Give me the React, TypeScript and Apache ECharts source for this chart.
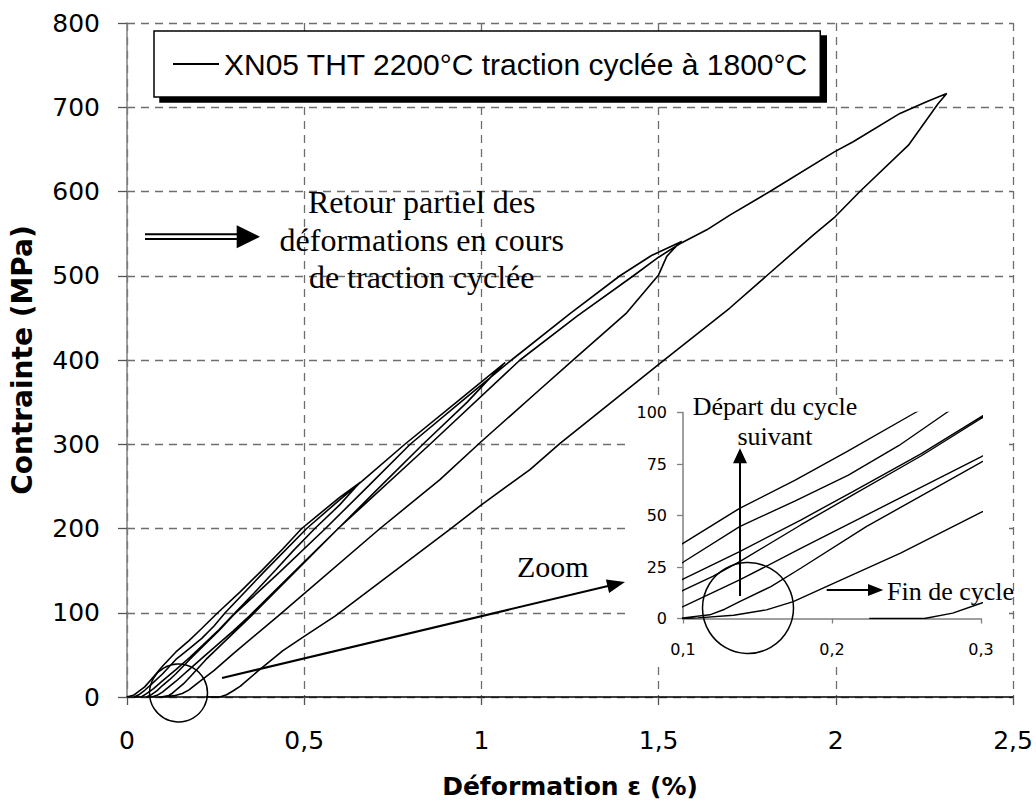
import React, { useEffect, useRef } from 'react';
import * as echarts from 'echarts';

// Cyclic tensile test record: strain (%) vs stress (MPa), one array per branch, in test order.
const SERIES_NAME = 'XN05 THT 2200°C traction cyclée à 1800°C';

const load1: [number, number][] = [
  [0, 0], [0.02, 2.5], [0.05, 12], [0.075, 24], [0.1, 36.5], [0.138, 53.5], [0.175, 67], [0.21, 81],
  [0.256, 100], [0.32, 125], [0.38, 150], [0.44, 176], [0.493, 200], [0.545, 218], [0.6, 237], [0.659, 255],
];
const unload1: [number, number][] = [
  [0.659, 255], [0.645, 249], [0.6, 228], [0.53, 200], [0.47, 174], [0.42, 151], [0.36, 124], [0.3, 97.9],
  [0.26, 80], [0.214, 61.6], [0.179, 47.8], [0.138, 32.5], [0.1, 19.1], [0.075, 10], [0.055, 4], [0.04, 0],
];
const load2: [number, number][] = [
  [0.02, 0], [0.035, 3], [0.05, 8], [0.07, 15.5], [0.1, 27.3], [0.138, 44.6], [0.175, 57], [0.211, 69.6],
  [0.245, 84], [0.277, 100], [0.39, 150], [0.507, 200], [0.6, 234], [0.66, 255], [0.784, 300], [0.93, 350],
  [1.0, 374], [1.067, 397],
];
const unload2: [number, number][] = [
  [1.067, 397], [1.045, 388], [0.96, 350], [0.835, 300], [0.715, 250], [0.596, 200], [0.47, 148], [0.345, 96],
  [0.3, 78.5], [0.223, 50.2], [0.179, 34], [0.138, 18.7], [0.1, 5.8], [0.085, 2], [0.07, 0],
];
const load3: [number, number][] = [
  [0.055, 0], [0.07, 3], [0.085, 7.5], [0.1, 13.6], [0.12, 20.5], [0.138, 27.6], [0.179, 45.4], [0.214, 60],
  [0.26, 79], [0.3, 97.1], [0.43, 148], [0.56, 200], [0.68, 250], [0.799, 300], [0.95, 353], [1.085, 400],
  [1.25, 455], [1.391, 500], [1.48, 524], [1.565, 540.7],
];
const unload3: [number, number][] = [
  [1.565, 540.7], [1.545, 533], [1.523, 523], [1.5, 501], [1.41, 456], [1.26, 400.5], [1.165, 365],
  [0.996, 301.8], [0.883, 258], [0.714, 200], [0.426, 96], [0.3, 51.5], [0.246, 31.7], [0.201, 17.1],
  [0.174, 8.2], [0.156, 4.2], [0.134, 1.6], [0.11, 0.3], [0.1, 0],
];
const load4: [number, number][] = [
  [0.09, 0], [0.1, 0.3], [0.118, 1.8], [0.128, 4.5], [0.138, 8.2], [0.159, 15.5], [0.179, 24.4], [0.223, 44.6],
  [0.3, 75.8], [0.35, 96], [0.596, 200], [0.855, 300], [1.109, 400], [1.27, 452], [1.429, 500], [1.5, 522],
  [1.56, 538], [1.636, 554.5], [1.701, 572], [1.814, 600], [1.996, 647], [2.049, 659], [2.181, 692.7],
  [2.256, 706.5], [2.313, 716.4],
];
const unload4: [number, number][] = [
  [2.313, 716.4], [2.289, 704.5], [2.205, 655], [2.068, 600], [1.998, 570], [1.937, 548.6], [1.805, 500],
  [1.701, 461.7], [1.51, 398], [1.222, 301], [1.137, 270], [1.0, 228], [0.911, 199], [0.587, 96], [0.5, 72],
  [0.44, 55], [0.37, 31], [0.32, 13], [0.3, 7.4], [0.281, 2.6], [0.262, 0], [0.225, 0],
];

// Axis ranges: [min, max, interval]
const strainAxis = [0, 2.5, 0.5];
const stressAxis = [0, 800, 100];
const zoomStrainAxis = [0.1, 0.3, 0.1];
const zoomStressAxis = [0, 100, 25];

const SANS = '"DejaVu Sans", sans-serif';
const SERIF = '"Liberation Serif", "Times New Roman", serif';
const comma = (v: number) => String(Math.round(v * 100) / 100).replace('.', ',');

export default function App() {
  const ref = useRef<HTMLDivElement>(null);

  useEffect(() => {
    const chart = echarts.init(ref.current!, undefined, { renderer: 'svg' });
    const record = [...load1, ...unload1, ...load2, ...unload2, ...load3, ...unload3, ...load4, ...unload4];

    const dashed = { show: true, lineStyle: { type: [8, 6], color: '#6e6e6e', width: 1.3 } };
    const txt = (x: number, y: number, text: string, size: number, align = 'left', lineHeight?: number) => ({
      type: 'text', x, y, z: 20,
      style: {
        text, fill: '#000', font: `${size}px ${SERIF}`,
        align, textAlign: align, verticalAlign: 'middle', textVerticalAlign: 'middle',
        lineHeight: lineHeight ?? size,
      },
    });
    const poly = (points: number[][]) => ({ type: 'polygon', z: 20, shape: { points }, style: { fill: '#000' } });
    const seg = (x1: number, y1: number, x2: number, y2: number, w = 2) => ({
      type: 'line', z: 20, shape: { x1, y1, x2, y2 }, style: { stroke: '#000', lineWidth: w },
    });

    chart.setOption({
      animation: false,
      backgroundColor: '#fff',
      legend: {
        data: [SERIES_NAME],
        left: 154, top: 31,
        padding: [18, 12, 18, 19],
        itemWidth: 46, itemHeight: 2, icon: 'rect',
        itemStyle: { color: '#000' },
        textStyle: { fontFamily: '"Liberation Sans", Arial, sans-serif', fontSize: 30, color: '#000' },
        backgroundColor: '#fff', borderColor: '#000', borderWidth: 1.5, borderRadius: 0,
        shadowColor: '#000', shadowOffsetX: 6, shadowOffsetY: 5, shadowBlur: 0,
        selectedMode: false, z: 15,
      },
      grid: [
        { left: 127, top: 23, width: 886, height: 675 },
        { left: 683, top: 412.5, width: 298, height: 206 },
      ],
      xAxis: [
        {
          type: 'value', gridIndex: 0, min: strainAxis[0], max: strainAxis[1], interval: strainAxis[2],
          name: 'Déformation ε (%)', nameLocation: 'middle', nameGap: 77,
          nameTextStyle: { fontFamily: SANS, fontWeight: 'bold', fontSize: 25, color: '#000' },
          axisLine: { show: true, lineStyle: { color: '#000', width: 1.5 } },
          axisTick: { show: true, length: 8, lineStyle: { color: '#555', width: 1.3 } },
          axisLabel: { formatter: comma, fontFamily: SANS, fontSize: 25, color: '#000', margin: 31 },
          splitLine: dashed,
        },
        {
          type: 'value', gridIndex: 1, min: zoomStrainAxis[0], max: zoomStrainAxis[1], interval: zoomStrainAxis[2], z: 5,
          axisLine: { show: true, lineStyle: { color: '#808080', width: 1.5 } },
          axisTick: { show: true, length: 5, lineStyle: { color: '#808080', width: 1.3 } },
          axisLabel: { formatter: comma, fontFamily: SANS, fontSize: 16, color: '#000', margin: 23 },
          splitLine: { show: false },
        },
      ],
      yAxis: [
        {
          type: 'value', gridIndex: 0, min: stressAxis[0], max: stressAxis[1], interval: stressAxis[2],
          name: 'Contrainte (MPa)', nameLocation: 'middle', nameRotate: 90, nameGap: 91,
          nameTextStyle: { fontFamily: SANS, fontWeight: 'bold', fontSize: 28, color: '#000' },
          axisLine: { show: true, lineStyle: { color: '#808080', width: 1.5 } },
          axisTick: { show: true, length: 9, lineStyle: { color: '#555', width: 1.3 } },
          axisLabel: { fontFamily: SANS, fontSize: 25, color: '#000', margin: 27 },
          splitLine: dashed,
        },
        {
          type: 'value', gridIndex: 1, min: zoomStressAxis[0], max: zoomStressAxis[1], interval: zoomStressAxis[2], z: 5,
          axisLine: { show: true, lineStyle: { color: '#808080', width: 1.5 } },
          axisTick: { show: true, length: 6, lineStyle: { color: '#808080', width: 1.3 } },
          axisLabel: { fontFamily: SANS, fontSize: 16, color: '#000', margin: 16 },
          splitLine: { show: false },
        },
      ],
      series: [
        {
          name: SERIES_NAME, type: 'line', xAxisIndex: 0, yAxisIndex: 0, data: record,
          symbol: 'none', showSymbol: false, z: 2, silent: true,
          lineStyle: { color: '#000', width: 1.6 }, itemStyle: { color: '#000' },
        },
        {
          name: SERIES_NAME, type: 'line', xAxisIndex: 1, yAxisIndex: 1, data: record,
          symbol: 'none', showSymbol: false, clip: true, z: 6, silent: true,
          lineStyle: { color: '#000', width: 1.4 }, itemStyle: { color: '#000' },
        },
      ],
      graphic: [
        // blank panel behind the zoomed view
        { type: 'rect', z: 3, shape: { x: 627, y: 395, width: 378, height: 272 }, style: { fill: '#fff' } },
        // left double arrow and its caption
        seg(145, 234.3, 238, 234.3, 2),
        seg(145, 239, 238, 239, 2),
        poly([[236.7, 225.3], [260, 236.7], [236.7, 248.3]]),
        txt(421.7, 239.5, 'Retour partiel des\ndéformations en cours\nde traction cyclée', 32, 'center', 37.5),
        // circle at the origin and the arrow towards the zoom
        { type: 'circle', z: 20, shape: { cx: 178.5, cy: 693, r: 29 }, style: { fill: 'none', stroke: '#000', lineWidth: 1.5 } },
        seg(222, 678, 608, 586, 2),
        poly([[609.1, 593], [625, 582], [605.9, 579.4]]),
        txt(517, 566, 'Zoom', 30),
        // annotations inside the zoom
        { type: 'circle', z: 20, shape: { cx: 748, cy: 608, r: 45.5 }, style: { fill: 'none', stroke: '#000', lineWidth: 1.5 } },
        seg(740, 596, 740, 462, 2),
        poly([[733, 463.3], [740, 448.3], [747, 463.3]]),
        txt(775, 421, 'Départ du cycle\nsuivant', 26, 'center', 30),
        seg(826.7, 590, 870, 590, 2),
        poly([[868, 584], [883.3, 590], [868, 596]]),
        txt(887, 591, 'Fin de cycle', 26),
      ],
    });

    return () => chart.dispose();
  }, []);

  return <div ref={ref} style={{ position: 'absolute', left: 0, top: 0, width: 1036, height: 804 }} />;
}
